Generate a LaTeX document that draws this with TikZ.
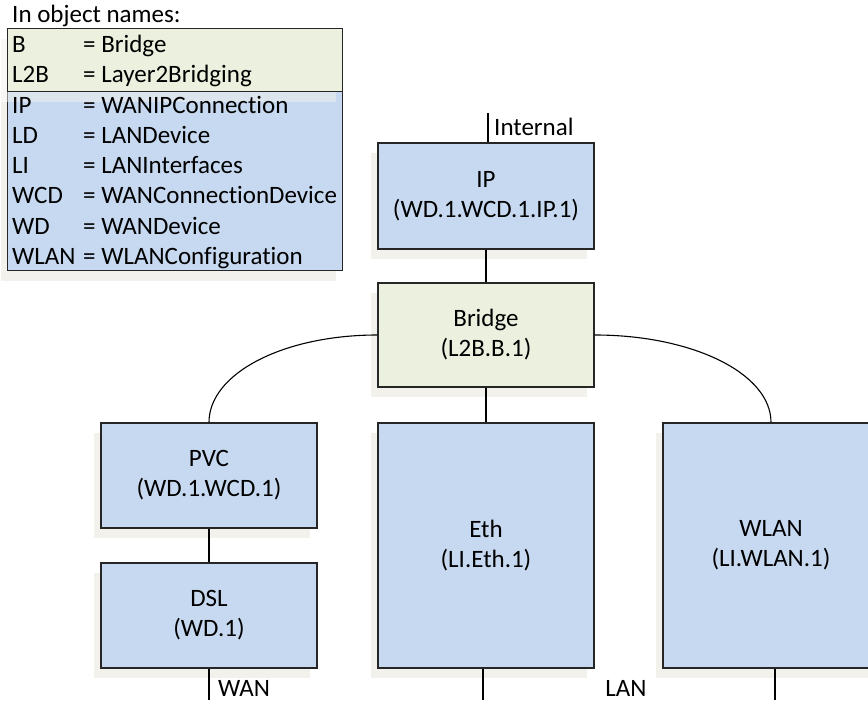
\documentclass[tikz,border=0pt]{standalone}
\usepackage{fontspec}
\setmainfont{Carlito}[Ligatures={NoCommon,NoContextual}]
\usetikzlibrary{shadows}
\definecolor{boxblue}{RGB}{198,217,240}
\definecolor{boxgreen}{RGB}{235,241,222}
\definecolor{shadowtone}{RGB}{242,241,236}
\tikzset{
  lbl/.style={font=\fontsize{25}{30}\selectfont, inner sep=0pt},
  boxshadow/.style={drop shadow={shadow xshift=-7pt, shadow yshift=-10pt, fill=shadowtone, opacity=#1}},
  boxshadow/.default=1,
  obj/.style={draw=black!85, line width=1.2pt, minimum width=216pt, align=center,
    font=\fontsize{25}{30}\selectfont, boxshadow},
  blueobj/.style={obj, fill=boxblue},
  greenobj/.style={obj, fill=boxgreen},
  legendbox/.style={draw=black!85, line width=1.2pt, minimum width=335pt, inner sep=0pt,
    anchor=north west},
  wire/.style={draw=black, line width=1.1pt},
}
\begin{document}
\begin{tikzpicture}[x=1pt,y=1pt]
\useasboundingbox[fill=white] (0,0) rectangle (868,704);

% legend of abbreviations
\node[lbl, anchor=base west] (legendTitle) at (12,681) {In object names:};
\node[legendbox, fill=boxblue, minimum height=179pt, boxshadow] (legendWan) at (7,613) {};
\node[legendbox, fill=boxgreen, minimum height=63pt, boxshadow=0.5] (legendBridge) at (7,676) {};
\foreach \ab/\full [count=\i from 0] in {B/Bridge, L2B/Layer2Bridging, IP/WANIPConnection,
    LD/LANDevice, LI/LANInterfaces, WCD/WANConnectionDevice, WD/WANDevice, WLAN/WLANConfiguration} {
  \node[lbl, anchor=base west] (abbr\i) at (12, 651.5-30.3*\i) {\ab};
  \node[lbl, anchor=base west] (meaning\i) at (83, 651.5-30.3*\i) {= \full};
}

% objects
\node[blueobj, minimum height=106pt] (IP) at (486,508) {IP\\(WD.1.WCD.1.IP.1)};
\node[greenobj, minimum height=104pt] (Bridge) at (486,369) {Bridge\\(L2B.B.1)};
\node[blueobj, minimum height=105pt] (PVC) at (209,228.5) {PVC\\(WD.1.WCD.1)};
\node[blueobj, minimum height=105pt] (DSL) at (209,88.5) {DSL\\(WD.1)};
\node[blueobj, minimum height=245pt] (Eth) at (486,158.5) {Eth\\(LI.Eth.1)};
\node[blueobj, minimum height=245pt] (WLAN) at (771,158.5) {WLAN\\(LI.WLAN.1)};

% free ends of the outer links
\coordinate (internalEnd) at (488,591);
\coordinate (wanEnd) at (209,4);
\coordinate (ethEnd) at (483,4);
\coordinate (wlanEnd) at (775,4);

% links
\draw[wire] (IP.north -| internalEnd) -- (internalEnd);
\draw[wire] (IP.south) -- (Bridge.north);
\draw[wire] (Bridge.west) to[out=180, in=90, out distance=94pt, in distance=49pt] (PVC.north);
\draw[wire] (Bridge.east) to[out=0, in=90, out distance=98pt, in distance=49pt] (WLAN.north);
\draw[wire] (Bridge.south) -- (Eth.north);
\draw[wire] (PVC.south) -- (DSL.north);
\draw[wire] (DSL.south) -- (wanEnd);
\draw[wire] (Eth.south -| ethEnd) -- (ethEnd);
\draw[wire] (WLAN.south -| wlanEnd) -- (wlanEnd);

% link labels
\node[lbl, anchor=base west] (internalLbl) at (494,568.5) {Internal};
\node[lbl, anchor=base west] (wanLbl) at (218,7) {WAN};
\node[lbl, anchor=base] (lanLbl) at (626,7) {LAN};
\end{tikzpicture}
\end{document}
